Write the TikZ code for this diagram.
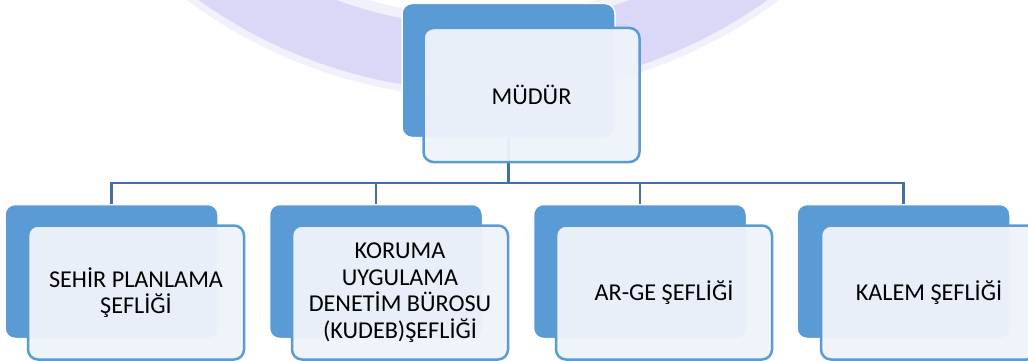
\documentclass[tikz,border=0pt]{standalone}
\usepackage{fontspec}
\setmainfont{Carlito}
\definecolor{backblue}{RGB}{91,155,213}
\definecolor{frontfill}{RGB}{238,243,250}
\definecolor{linkblue}{RGB}{65,113,156}
\definecolor{wmark}{RGB}{210,208,244}
\begin{document}
\begin{tikzpicture}[x=1pt,y=-1pt,
  backbox/.style={draw=white,line width=1.5pt,fill=backblue,rounded corners=10pt,
    minimum width=213pt,minimum height=134pt,inner sep=0pt},
  frontbox/.style={draw=backblue,line width=2.5pt,fill=frontfill,fill opacity=0.96,
    text opacity=1,rounded corners=10pt,minimum width=216pt,minimum height=134pt,
    inner sep=0pt,align=center,font=\fontsize{24.2}{26.5}\selectfont},
  link/.style={draw=linkblue,line width=2.5pt}]
\useasboundingbox (0,0) rectangle (1028,361);
\clip (0,0) rectangle (1028,361);
% faint watermark ring
\fill[wmark,opacity=0.3,even odd rule] (483,-399) circle (497pt) (483,-399) circle (415pt);
\fill[wmark,opacity=0.75,even odd rule] (483,-399) circle (490pt) (483,-399) circle (425pt);
\coordinate (bus) at (0,183);
% back boxes
\node[backbox] (mb) at (508.5,70.5) {};
\node[backbox] (b1) at (111.5,271.5) {};
\node[backbox] (b2) at (376,271.5) {};
\node[backbox] (b3) at (640,271.5) {};
\node[backbox] (b4) at (903.5,271.5) {};
% connectors
\draw[link] (mb.south) -- (mb.south |- bus) -| (b1.north);
\draw[link] (mb.south |- bus) -| (b2.north);
\draw[link] (mb.south |- bus) -| (b3.north);
\draw[link] (mb.south |- bus) -| (b4.north);
% front boxes
\node[frontbox] (mf) at (531.5,95) {MÜDÜR};
\node[frontbox] (f1) at (136,292.5) {SEHİR PLANLAMA\\ŞEFLİĞİ};
\node[frontbox] (f2) at (400,292.5) {KORUMA\\UYGULAMA\\DENETİM BÜROSU\\(KUDEB)ŞEFLİĞİ};
\node[frontbox] (f3) at (664,292.5) {AR-GE ŞEFLİĞİ};
\node[frontbox] (f4) at (929,292.5) {KALEM ŞEFLİĞİ};
\end{tikzpicture}
\end{document}
